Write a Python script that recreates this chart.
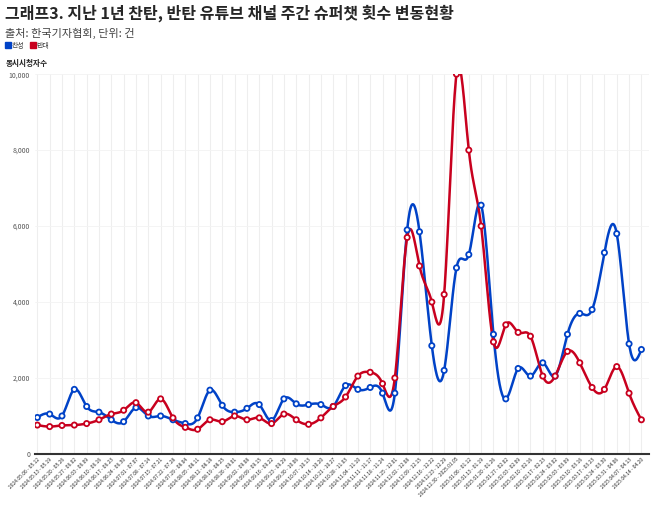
import numpy as np, pandas as pd, matplotlib
matplotlib.use("Agg")
import matplotlib.pyplot as plt, seaborn as sns
from matplotlib.ticker import FuncFormatter

start = pd.Timestamp("2024-05-06")
weeks = [start + pd.Timedelta(days=7*i) for i in range(50)]
labels = []
for w in weeks:
    e = w + pd.Timedelta(days=6)
    labels.append(f"{w:%Y.%m.%d} - " + (f"{e:%Y.%m.%d}" if e.year != w.year else f"{e:%m.%d}"))

pro = [960,1050,1000,1700,1250,1100,900,850,1220,1000,1000,900,800,950,1680,1280,1100,1200,1300,880,
       1450,1320,1300,1300,1250,1800,1700,1750,1600,1600,5900,5850,2850,2200,4900,5250,6550,3150,1450,2250,
       2050,2400,2050,3150,3700,3800,5300,5800,2900,2750]
con = [760,720,750,760,800,900,1050,1150,1350,1100,1450,950,700,650,900,850,1000,900,950,800,
       1050,900,780,950,1250,1500,2050,2150,1850,2000,5700,4950,4000,4200,10000,8000,6000,2950,3400,3200,
       3100,2050,2050,2700,2400,1750,1700,2300,1600,900]

def spline(y, n=20):
    y = np.asarray(y, float); N = len(y)
    A = np.zeros((N, N)); b = np.zeros(N)
    A[0,0] = A[-1,-1] = 1
    for i in range(1, N-1):
        A[i,i-1], A[i,i], A[i,i+1] = 1, 4, 1
        b[i] = 6*(y[i+1]-2*y[i]+y[i-1])
    M = np.linalg.solve(A, b)
    xs, ys = [], []
    for i in range(N-1):
        t = np.linspace(0, 1, n, endpoint=False)
        v = (1-t)*y[i] + t*y[i+1] + ((1-t)**3-(1-t))*M[i]/6 + (t**3-t)*M[i+1]/6
        xs.extend(i+t); ys.extend(v)
    xs.append(N-1); ys.append(y[-1])
    return np.array(xs), np.array(ys)

sns.set_style("white")
plt.rcParams['font.family'] = ['Noto Sans CJK KR', 'DejaVu Sans']
fig = plt.figure(figsize=(6.58, 5.26), dpi=100)
ax = fig.add_axes([0.053, 0.137, 0.933, 0.722])
df = pd.DataFrame({"x": list(range(50))*2, "v": pro+con, "s": ["찬성"]*50+["반대"]*50})
cols = {"찬성": "#0042c7", "반대": "#c8001e"}
for s, vals in [("찬성", pro), ("반대", con)]:
    xs, ys = spline(vals)
    ax.plot(xs, ys, color=cols[s], lw=1.8, zorder=2)
sns.scatterplot(data=df, x="x", y="v", hue="s", palette=cols, ax=ax, s=14, facecolor="white",
                linewidth=1.3, legend=False, zorder=3)
for c, s in zip(ax.collections, ["찬성","반대"]):
    pass
# fix edge colors
ax.collections[0].set_facecolor("white")
ax.collections[0].set_edgecolor([cols[s] for s in df.s])
ax.set_xlim(-0.2, 49.6); ax.set_ylim(0, 10000)
ax.set_yticks(range(0, 10001, 2000))
ax.yaxis.set_major_formatter(FuncFormatter(lambda v, p: f"{int(v):,}"))
ax.set_xticks(range(50)); ax.set_xticklabels(labels, rotation=45, ha="right", rotation_mode="anchor", fontsize=3.5)
ax.tick_params(axis="y", labelsize=5, colors="#555", length=0)
ax.tick_params(axis="x", length=0, pad=2)
ax.grid(axis="x", color="#eeeeee", lw=0.8); ax.grid(axis="y", color="#f3f3f3", lw=0.6)
for sp in ["top","right","left"]: ax.spines[sp].set_visible(False)
ax.spines["bottom"].set_color("#333"); ax.spines["bottom"].set_linewidth(1.5)
ax.set_xlabel(""); ax.set_ylabel("")
fig.text(0.008, 0.965, "그래프3. 지난 1년 찬탄, 반탄 유튜브 채널 주간 슈퍼챗 횟수 변동현황", fontsize=11.5, weight="bold")
fig.text(0.008, 0.93, "출처: 한국기자협회, 단위: 건", fontsize=8, color="#444")
fig.patches.append(plt.Rectangle((0.008, 0.909), 0.008, 0.012, color=cols["찬성"], transform=fig.transFigure))
fig.text(0.018, 0.909, "찬성", fontsize=5, color="#444")
fig.patches.append(plt.Rectangle((0.046, 0.909), 0.008, 0.012, color=cols["반대"], transform=fig.transFigure))
fig.text(0.056, 0.909, "반대", fontsize=5, color="#444")
fig.text(0.008, 0.875, "동시시청자수", fontsize=5.5, weight="bold", color="#222")
fig.savefig("out.png", dpi=100)
